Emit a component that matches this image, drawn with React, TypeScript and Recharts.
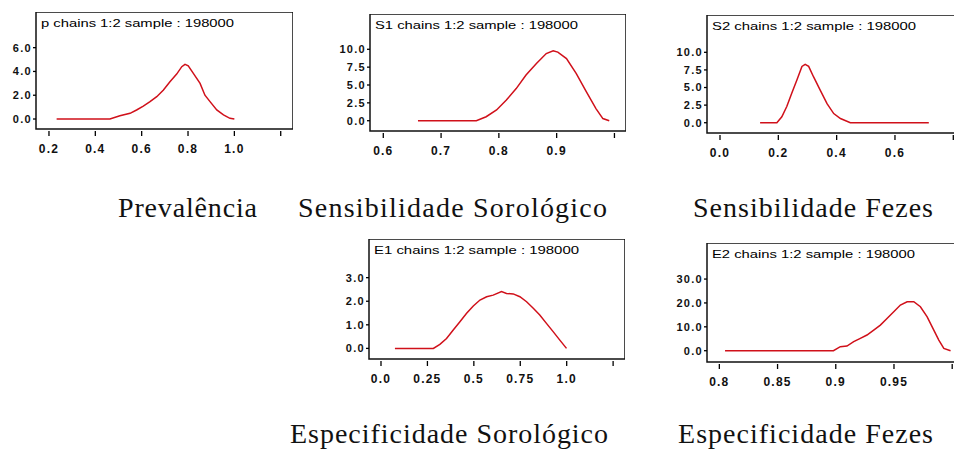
import { LineChart, Line, XAxis, YAxis, ReferenceArea } from 'recharts';

// densities
const prevX = [0.233, 0.463, 0.506, 0.55, 0.578, 0.607, 0.636, 0.665, 0.694, 0.722, 0.751, 0.773, 0.787, 0.801, 0.823, 0.852, 0.873, 0.895, 0.924, 0.953, 0.981, 1.0];
const prevY = [0, 0, 0.28, 0.48, 0.76, 1.09, 1.46, 1.88, 2.44, 3.14, 3.78, 4.4, 4.6, 4.48, 3.84, 3.0, 2.0, 1.46, 0.76, 0.34, 0.06, 0];

const s1X = [0.66, 0.761, 0.778, 0.796, 0.813, 0.83, 0.847, 0.865, 0.882, 0.894, 0.902, 0.917, 0.934, 0.951, 0.968, 0.98, 0.991];
const s1Y = [0, 0, 0.56, 1.5, 2.9, 4.5, 6.4, 8.0, 9.4, 9.8, 9.6, 8.7, 6.6, 4.1, 1.7, 0.3, 0];

const s2X = [0.1375, 0.195, 0.212, 0.229, 0.246, 0.264, 0.281, 0.292, 0.304, 0.321, 0.344, 0.367, 0.39, 0.413, 0.447, 0.716];
const s2Y = [0, 0, 0.85, 2.3, 4.2, 6.1, 8.0, 8.3, 8.0, 6.5, 4.6, 2.7, 1.3, 0.6, 0, 0];

const e1X = [0.075, 0.282, 0.317, 0.353, 0.389, 0.425, 0.461, 0.497, 0.533, 0.569, 0.604, 0.649, 0.676, 0.712, 0.748, 0.784, 0.82, 0.855, 0.891, 0.927, 0.963, 0.999];
const e1Y = [0, 0, 0.17, 0.42, 0.78, 1.13, 1.49, 1.8, 2.05, 2.19, 2.26, 2.41, 2.33, 2.31, 2.19, 1.98, 1.7, 1.42, 1.06, 0.71, 0.35, 0];

const e2X = [0.8049, 0.898, 0.9039, 0.9096, 0.9154, 0.9211, 0.9268, 0.9326, 0.9383, 0.944, 0.9498, 0.9555, 0.9613, 0.967, 0.9727, 0.9785, 0.9842, 0.9885, 0.9928, 0.9986];
const e2Y = [0, 0, 1.67, 1.95, 3.77, 5.16, 6.56, 8.65, 10.7, 13.5, 16.3, 19.1, 20.5, 20.5, 18.4, 14.2, 8.65, 4.46, 0.98, 0];

const prevXTicks = [0.2, 0.4, 0.6, 0.8, 1.0, 1.2];
const prevXLabels = ['0.2', '0.4', '0.6', '0.8', '1.0', ''];
const prevYTicks = [0, 2, 4, 6];
const prevYLabels = ['0.0', '2.0', '4.0', '6.0'];

const s1XTicks = [0.6, 0.7, 0.8, 0.9, 1.0];
const s1XLabels = ['0.6', '0.7', '0.8', '0.9', ''];
const s2XTicks = [0, 0.2, 0.4, 0.6, 0.8];
const s2XLabels = ['0.0', '0.2', '0.4', '0.6', ''];
const sYTicks = [0, 2.5, 5, 7.5, 10];
const sYLabels = ['0.0', '2.5', '5.0', '7.5', '10.0'];

const e1XTicks = [0, 0.25, 0.5, 0.75, 1.0, 1.25];
const e1XLabels = ['0.0', '0.25', '0.5', '0.75', '1.0', ''];
const e1YTicks = [0, 1, 2, 3];
const e1YLabels = ['0.0', '1.0', '2.0', '3.0'];
const e2XTicks = [0.8, 0.85, 0.9, 0.95, 1.0];
const e2XLabels = ['0.8', '0.85', '0.9', '0.95', ''];
const e2YTicks = [0, 10, 20, 30];
const e2YLabels = ['0.0', '10.0', '20.0', '30.0'];

const titles = ['p', 'S1', 'S2', 'E1', 'E2'];
const sampleText = 'chains 1:2 sample : 198000';

const captions = ['Prevalência', 'Sensibilidade Sorológico', 'Sensibilidade Fezes', 'Especificidade Sorológico', 'Especificidade Fezes'];

const toRows = (xs: number[], ys: number[]) => xs.map((x, i) => ({ x, y: ys[i] }));

const YW = 44;
const XH = 34;
const RED = '#d0101a';
const TICK_FONT = 'Liberation Sans, Arial, sans-serif';

const makeXTick = (labels: string[]) => (props: any) => {
  const { x, y, index } = props;
  return (
    <g>
      <line x1={x} x2={x} y1={y + 2} y2={y + 7} stroke="#000" strokeWidth={1.3} />
      <text x={x} y={y + 24} textAnchor="middle" fontSize={12} fontWeight="bold" letterSpacing={1.2} fontFamily={TICK_FONT} fill="#111">
        {labels[index]}
      </text>
    </g>
  );
};

const makeYTick = (labels: string[]) => (props: any) => {
  const { x, y, index } = props;
  return (
    <g>
      <line x1={x - 3} x2={x} y1={y} y2={y} stroke="#000" strokeWidth={1.3} />
      <text x={x - 4} y={y} dy="0.36em" textAnchor="end" fontSize={11} fontWeight="bold" letterSpacing={1.3} fontFamily={TICK_FONT} fill="#111">
        {labels[index]}
      </text>
    </g>
  );
};

function PanelTitle(props: any) {
  const { viewBox, text, len } = props;
  return (
    <text x={viewBox.x + 5} y={viewBox.y + 15} fontSize={11} fontFamily={TICK_FONT} fill="#000" textLength={len} lengthAdjust="spacingAndGlyphs">
      {text}
    </text>
  );
}

interface PanelProps {
  rows: { x: number; y: number }[];
  title: string;
  titleLen: number;
  box: [number, number, number, number];
  xDomain: [number, number];
  yDomain: [number, number];
  xTicks: number[];
  xLabels: string[];
  yTicks: number[];
  yLabels: string[];
}

function Panel({ rows, title, titleLen, box, xDomain, yDomain, xTicks, xLabels, yTicks, yLabels }: PanelProps) {
  const [l, t, w, h] = box;
  return (
    <div style={{ position: 'absolute', left: l - YW, top: t }}>
      <LineChart width={YW + w} height={h + XH} data={rows} margin={{ top: 0, right: 0, bottom: 0, left: 0 }}>
        <XAxis
          dataKey="x"
          type="number"
          domain={xDomain}
          allowDataOverflow
          ticks={xTicks}
          interval={0}
          axisLine={false}
          tickLine={false}
          tickSize={0}
          tickMargin={0}
          height={XH}
          tick={makeXTick(xLabels)}
        />
        <YAxis
          type="number"
          domain={yDomain}
          allowDataOverflow
          ticks={yTicks}
          interval={0}
          axisLine={false}
          tickLine={false}
          tickSize={0}
          tickMargin={0}
          width={YW}
          tick={makeYTick(yLabels)}
        />
        <ReferenceArea
          x1={xDomain[0]}
          x2={xDomain[1]}
          y1={yDomain[0]}
          y2={yDomain[1]}
          fill="none"
          fillOpacity={0}
          stroke="#111"
          strokeWidth={1.5}
          ifOverflow="visible"
          label={<PanelTitle text={title} len={titleLen} />}
        />
        <Line dataKey="y" type="linear" stroke={RED} strokeWidth={1.5} dot={false} isAnimationActive={false} />
      </LineChart>
    </div>
  );
}

export default function App() {
  return (
    <div style={{ position: 'absolute', left: 0, top: 0, width: 954, height: 452, overflow: 'hidden', background: '#fff' }}>
      <Panel
        rows={toRows(prevX, prevY)}
        title={`${titles[0]} ${sampleText}`}
        titleLen={193}
        box={[36, 12, 257, 117]}
        xDomain={[0.144, 1.253]}
        yDomain={[-0.84, 9.0]}
        xTicks={prevXTicks}
        xLabels={prevXLabels}
        yTicks={prevYTicks}
        yLabels={prevYLabels}
      />
      <Panel
        rows={toRows(s1X, s1Y)}
        title={`${titles[1]} ${sampleText}`}
        titleLen={203}
        box={[370, 14, 256, 117]}
        xDomain={[0.577, 1.02]}
        yDomain={[-1.44, 14.94]}
        xTicks={s1XTicks}
        xLabels={s1XLabels}
        yTicks={sYTicks}
        yLabels={sYLabels}
      />
      <Panel
        rows={toRows(s2X, s2Y)}
        title={`${titles[2]} ${sampleText}`}
        titleLen={204}
        box={[707, 15, 253, 118]}
        xDomain={[-0.0446, 0.823]}
        yDomain={[-1.46, 15.3]}
        xTicks={s2XTicks}
        xLabels={s2XLabels}
        yTicks={sYTicks}
        yLabels={sYLabels}
      />
      <Panel
        rows={toRows(e1X, e1Y)}
        title={`${titles[3]} ${sampleText}`}
        titleLen={205}
        box={[369, 239, 256, 120]}
        xDomain={[-0.0646, 1.314]}
        yDomain={[-0.45, 4.64]}
        xTicks={e1XTicks}
        xLabels={e1XLabels}
        yTicks={e1YTicks}
        yLabels={e1YLabels}
      />
      <Panel
        rows={toRows(e2X, e2Y)}
        title={`${titles[4]} ${sampleText}`}
        titleLen={203}
        box={[707, 243, 253, 119]}
        xDomain={[0.7894, 1.0067]}
        yDomain={[-4.73, 45.1]}
        xTicks={e2XTicks}
        xLabels={e2XLabels}
        yTicks={e2YTicks}
        yLabels={e2YLabels}
      />
      <svg width={954} height={452} style={{ position: 'absolute', left: 0, top: 0, pointerEvents: 'none' }}>
        <g fontFamily="Liberation Serif, Times New Roman, serif" fontSize={28} fill="#111">
          <text x={118} y={217} textLength={139} lengthAdjust="spacing">{captions[0]}</text>
          <text x={298} y={217} textLength={309} lengthAdjust="spacing">{captions[1]}</text>
          <text x={693} y={217} textLength={240} lengthAdjust="spacing">{captions[2]}</text>
          <text x={290} y={443} textLength={318} lengthAdjust="spacing">{captions[3]}</text>
          <text x={678} y={443} textLength={255} lengthAdjust="spacing">{captions[4]}</text>
        </g>
      </svg>
    </div>
  );
}
